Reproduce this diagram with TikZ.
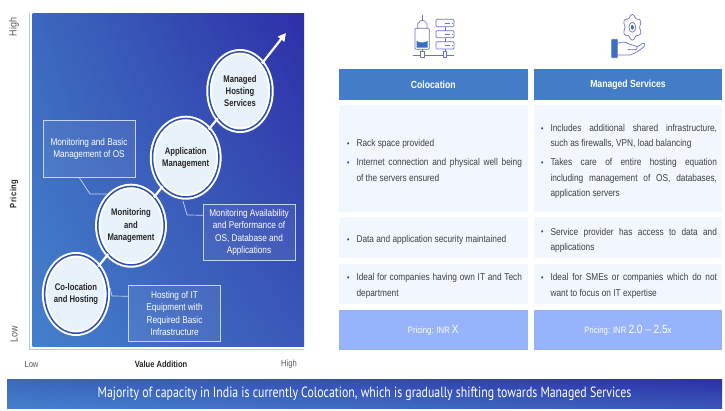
\documentclass[tikz,border=0pt]{standalone}
\usepackage{fontspec}
\usetikzlibrary{shapes.geometric,arrows.meta,shadings}
\setmainfont{Liberation Sans}
\newfontfamily\bodyf[FakeStretch=0.84]{Liberation Sans}
\newfontfamily\circf[FakeStretch=0.80]{Liberation Sans}
\newfontfamily\titlef[FakeStretch=0.80]{PT Sans}
\definecolor{gradLL}{HTML}{4480CC}
\definecolor{gradUR}{HTML}{2D2FA8}
\definecolor{gradUL}{HTML}{3C68BE}
\definecolor{gradLR}{HTML}{3A58B8}
\definecolor{headblue}{HTML}{437DC8}
\definecolor{rowtint}{HTML}{F2F6FE}
\definecolor{pricetint}{HTML}{97B3FB}
\definecolor{axisline}{HTML}{B4C7E7}
\definecolor{circfill}{HTML}{E8F2FB}
\definecolor{ringgap}{HTML}{2F4FB2}
\definecolor{bodytext}{HTML}{404040}
\definecolor{bullblue}{HTML}{2D2FA8}
\definecolor{iconline}{HTML}{6A70D2}
\definecolor{iconfill}{HTML}{3A6CC0}
\definecolor{boxline}{HTML}{C5D6F2}
\newcommand\bitem{\par\setlength{\parskip}{3.6pt}\hangindent=9.5pt\hangafter=1\noindent\makebox[9.5pt][l]{\textcolor{bullblue}{\raisebox{.3pt}{\footnotesize•}}}}
\tikzset{
  x=1pt,y=-1pt,
  stage/.style={ellipse,minimum width=62pt,minimum height=78.5pt,inner sep=0pt,outer sep=0pt,
    draw=white,line width=2pt,double=ringgap,double distance=1.5pt,fill=circfill,
    align=center,text=black!85,font=\circf\bfseries\fontsize{9.6}{12.2}\selectfont,
    execute at begin node={\vspace*{2pt}}},
  callout/.style={rectangle,draw=boxline,line width=.7pt,fill=white,fill opacity=.07,text opacity=1,
    inner sep=0pt,outer sep=0pt,minimum width=92pt,minimum height=56.5pt,align=center,text=white,
    font=\bodyf\fontsize{9.8}{12.2}\selectfont,
    execute at begin node={\vspace*{2pt}}},
  lead/.style={draw=boxline,line width=.7pt},
  link/.style={draw=white,line width=2.2pt},
  head/.style={rectangle,fill=headblue,inner sep=0pt,outer sep=0pt,minimum width=188.6pt,minimum height=30.5pt,
    text=white,font=\bodyf\bfseries\fontsize{10.3}{13}\selectfont},
  cell/.style={rectangle,fill=rowtint,inner sep=0pt,outer sep=0pt,minimum width=188.6pt},
  cellt/.style={inner sep=0pt,text width=167pt,align=justify,text=bodytext,
    font=\bodyf\fontsize{9.9}{15.4}\selectfont},
  price/.style={rectangle,fill=pricetint,inner sep=0pt,outer sep=0pt,minimum width=188.6pt,minimum height=40pt,
    text=white,font=\bodyf\fontsize{9.2}{12}\selectfont},
  axl/.style={text=black!65,font=\bodyf\fontsize{9}{11}\selectfont,inner sep=0pt},
  axr/.style={axl,rotate=90,font=\bodyf\fontsize{10.6}{11}\selectfont},
  axb/.style={text=black!85,font=\bodyf\bfseries\fontsize{9}{11}\selectfont,inner sep=0pt},
  ico/.style={draw=iconline,line width=.7pt,line join=round},
}
\begin{document}
\begin{tikzpicture}
\useasboundingbox (0,0) rectangle (725,410);
\fill[white] (0,0) rectangle (725,410);
% chart panel
\shade[lower left=gradLL,upper left=gradUL,upper right=gradUR,lower right=gradLR] (32.5,13) rectangle (304,346);
\draw[axisline,line width=1pt] (29.5,13) -- (29.5,349) -- (304,349);
% stages
\node[stage] (coloc) at (76,294) {Co-location\\and Hosting};
\node[stage] (monit) at (131,225.7) {Monitoring\\and\\Management};
\node[stage] (appl) at (185.7,157.7) {Application\\Management};
\node[stage] (hosted) at (240,91) {Managed\\Hosting\\Services};
\coordinate (tip) at (286,33);
\draw[link] (coloc) -- (monit);
\draw[link] (monit) -- (appl);
\draw[link] (appl) -- (hosted);
\draw[link,-{Triangle[length=8pt,width=8pt]}] (hosted) -- (tip);
% callouts
\node[callout] (basic) at (89,149) {Monitoring and Basic\\Management of OS};
\node[callout] (avail) at (249,232.5) {Monitoring Availability\\and Performance of\\OS, Database and\\Applications};
\node[callout] (hostit) at (174.5,313.5) {Hosting of IT\\Equipment with\\Required Basic\\Infrastructure};
\coordinate (k1) at (90,194);
\coordinate (e1) at (107,194);
\coordinate (k2) at (187,215);
\coordinate (e2) at (183,201);
\coordinate (k3) at (112,296);
\coordinate (e3) at (110,288);
\draw[lead] ([xshift=36pt]basic.south west) -- (k1) -- (e1);
\draw[lead] ([yshift=-11pt]avail.north west) -- (k2) -- (e2);
\draw[lead] ([yshift=-11pt]hostit.north west) -- (k3) -- (e3);
% axis labels
\node[axr] (yhigh) at (14,27) {High};
\node[axb,rotate=90] (ymid) at (14,194) {\addfontfeature{LetterSpace=6}Pricing};
\node[axr] (ylow) at (14,334) {Low};
\node[axl] (xlow) at (31.5,364) {Low};
\node[axb] (xmid) at (161,364) {Value Addition};
\node[axl] (xhigh) at (289,364) {High};
% table
\node[head] (h1) at (433.3,84.5) {Colocation};
\node[head] (h2) at (628,84.5) {Managed Services};
\node[cell,minimum height=107.5pt] (r1a) at (433.3,158.4) {};
\node[cell,minimum height=107.5pt] (r1b) at (628,158.4) {};
\node[cell,minimum height=41pt] (r2a) at (433.3,237.5) {};
\node[cell,minimum height=41pt] (r2b) at (628,237.5) {};
\node[cell,minimum height=40pt] (r3a) at (433.3,284.2) {};
\node[cell,minimum height=40pt] (r3b) at (628,284.2) {};
\node[cellt,text width=175pt] (t1a) at (434.5,154.7) {\bitem Rack space provided\bitem Internet connection and physical well being\linebreak of the servers ensured\par};
\node[cellt,text width=176pt] (t1b) at (629,155.5) {\bitem Includes additional shared infrastructure,\linebreak such as firewalls, VPN, load balancing\bitem Takes care of entire hosting equation\linebreak including management of OS, databases,\linebreak application servers\par};
\node[cellt,text width=175pt] (t2a) at (434.5,234.5) {\bitem Data and application security maintained\par};
\node[cellt,text width=176pt] (t2b) at (629,234.3) {\bitem Service provider has access to data and\linebreak applications\par};
\node[cellt,text width=175pt] (t3a) at (434.5,280) {\bitem Ideal for companies having own IT and Tech\linebreak department\par};
\node[cellt,text width=176pt] (t3b) at (629,280) {\bitem Ideal for SMEs or companies which do not\linebreak want to focus on IT expertise\par};
\node[price] (p1) at (433.3,330.3) {Pricing: INR {\fontsize{12}{12}\selectfont X}};
\node[price] (p2) at (628,330.3) {Pricing: INR {\fontsize{12}{12}\selectfont 2.0 – 2.5}x};
% banner
\shade[lower left=gradLL,upper left=gradUL,upper right=gradUR,lower right=gradLR] (7,379.5) rectangle (722,408);
\node[text=white,inner sep=0pt,font=\titlef\fontsize{14.8}{18}\selectfont] (banner) at (364.5,394) {Majority of capacity in India is currently Colocation, which is gradually shifting towards Managed Services};
% colocation icon
\draw[ico,rounded corners=1pt] (415,28.3) rectangle (429.3,49.3);
\fill[iconfill] (416.7,41) .. controls (420,43) and (424,43) .. (427.7,41) -- (427.7,47.7) -- (416.7,47.7) -- cycle;
\draw[ico] (417.7,28.3) -- (417.7,23.5) -- (420.5,20.7) -- (424.2,20.7) -- (427,23.5) -- (427,28.3);
\draw[ico] (422.3,15) -- (422.3,20.7);
\draw[ico] (413.3,55) -- (454,55);
\draw[ico,fill=white] (420.7,51.7) rectangle (424.3,57.3);
\draw[ico,fill=white] (443,51.7) rectangle (446.7,57.3);
\draw[ico] (422.5,49.3) -- (422.5,51.7);
\draw[ico,rounded corners=1pt] (436,19.3) rectangle (454,26.7);
\draw[ico,rounded corners=1pt] (436,30.7) rectangle (454,37.7);
\draw[ico,rounded corners=1pt] (436,41.7) rectangle (454,49);
\draw[ico] (445,26.7) -- (445,30.7) (445,37.7) -- (445,41.7) (445,49) -- (445,51.7);
\draw[ico] (445,23) -- (450,23) (451.5,23) -- (452.2,23) (445,34.2) -- (450,34.2) (451.5,34.2) -- (452.2,34.2) (445,45.3) -- (450,45.3) (451.5,45.3) -- (452.2,45.3);
% managed services icon
\draw[ico] plot[smooth cycle,samples=49,domain=0:352.5] ({632.3+8.4*(1-0.13*cos(6*\x))*cos(\x)},{27.3-11.4*(1-0.13*cos(6*\x))*sin(\x)});
\draw[ico] (632.3,27.3) ellipse [x radius=3.4pt,y radius=5pt];
\fill[iconfill] (632.3,27.3) ellipse [x radius=1.5pt,y radius=2.3pt];
\draw[ico,fill=iconfill,rounded corners=.5pt] (611.7,39.3) rectangle (617.3,57.7);
\draw[ico,line cap=round] (617.3,43.5) .. controls (622,41.5) and (625,41.5) .. (629,44) -- (635,45.8) .. controls (638,46.2) and (638,50) .. (634,49.8) -- (628,49.5)
  (636.8,47) -- (642,43.8) .. controls (644.5,42.5) and (646.5,44.5) .. (644.5,46.2) .. controls (640,50) and (636,53) .. (630,55) -- (617.3,55);
\end{tikzpicture}
\end{document}
